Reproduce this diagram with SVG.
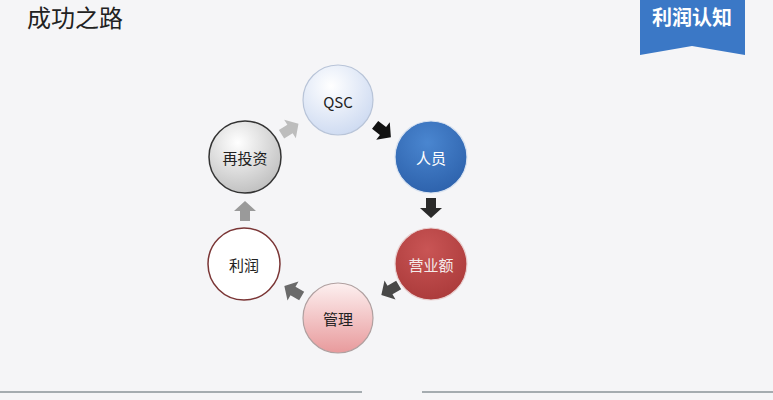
<svg xmlns="http://www.w3.org/2000/svg" width="773" height="400" viewBox="0 0 773 400">
<defs>
<radialGradient id="gQSC" cx="0.4" cy="0.3" r="0.8"><stop offset="0" stop-color="#ffffff"/><stop offset="1" stop-color="#c9d7f0"/></radialGradient>
<radialGradient id="gRY" cx="0.45" cy="0.3" r="0.8"><stop offset="0" stop-color="#4a86d0"/><stop offset="1" stop-color="#2a5ea8"/></radialGradient>
<radialGradient id="gYY" cx="0.45" cy="0.3" r="0.8"><stop offset="0" stop-color="#c95555"/><stop offset="1" stop-color="#a83838"/></radialGradient>
<linearGradient id="gGL" x1="0" y1="0" x2="0" y2="1"><stop offset="0" stop-color="#fdf0f0"/><stop offset="1" stop-color="#e89a9c"/></linearGradient>
<radialGradient id="gZT" cx="0.4" cy="0.3" r="0.85"><stop offset="0" stop-color="#ffffff"/><stop offset="1" stop-color="#b5b5b5"/></radialGradient>
<path id="arr" d="M-10,-5 L0,-5 L0,-11 L10,0 L0,11 L0,5 L-10,5 Z"/>
</defs>
<style>
.lbl{font-family:"Noto Sans CJK SC","Liberation Sans",sans-serif;font-size:15px;text-anchor:middle;dominant-baseline:central}
</style>
<rect x="0" y="0" width="773" height="400" fill="#f5f5f7"/>
<text x="27" y="27" font-family="'Noto Sans CJK SC','Liberation Sans',sans-serif" font-size="24" fill="#222">成功之路</text>
<g id="banner">
<polygon points="640,0 745,0 745,55 692,46 640,55" fill="#3b78c6"/>
<text x="692" y="25" font-family="'Noto Sans CJK SC',sans-serif" font-size="20" font-weight="bold" fill="#ffffff" text-anchor="middle">利润认知</text>
</g>
<g id="connectors">
<use href="#arr" transform="translate(383,131) rotate(38)" fill="#111"/>
<use href="#arr" transform="translate(431,208) rotate(90)" fill="#2a2a2a"/>
<use href="#arr" transform="translate(390,290) rotate(150)" fill="#484848"/>
<use href="#arr" transform="translate(293,291) rotate(210)" fill="#6a6a6a"/>
<use href="#arr" transform="translate(245,211) rotate(-90)" fill="#9a9a9a"/>
<use href="#arr" transform="translate(290,129) rotate(-32)" fill="#bdbdbd"/>
</g>
<g id="qsc"><circle cx="338" cy="100" r="35" fill="url(#gQSC)" stroke="#b8c4d8" stroke-width="1.2"/><text class="lbl" x="338" y="101" fill="#222" font-family="'Liberation Sans',sans-serif">QSC</text></g>
<g id="renyuan"><circle cx="431" cy="157" r="36" fill="url(#gRY)" stroke="#d8e2f0" stroke-width="1.2"/><text class="lbl" x="431" y="157" fill="#ffffff">人员</text></g>
<g id="yingye"><circle cx="431" cy="264" r="36" fill="url(#gYY)" stroke="#e8d0d0" stroke-width="1.2"/><text class="lbl" x="431" y="264" fill="#f4eaea">营业额</text></g>
<g id="guanli"><circle cx="338" cy="318" r="35" fill="url(#gGL)" stroke="#b0a0a0" stroke-width="1.2"/><text class="lbl" x="338" y="318" fill="#222">管理</text></g>
<g id="lirun"><circle cx="244" cy="264" r="36" fill="#ffffff" stroke="#7a3535" stroke-width="1.5"/><text class="lbl" x="244" y="264" fill="#222">利润</text></g>
<g id="zaitouzi"><circle cx="245" cy="157" r="36" fill="url(#gZT)" stroke="#333" stroke-width="1.5"/><text class="lbl" x="245" y="157" fill="#222">再投资</text></g>
<line x1="0" y1="392" x2="362" y2="392" stroke="#56646a" stroke-width="1.2"/>
<line x1="422" y1="392" x2="773" y2="392" stroke="#56646a" stroke-width="1.2"/>
</svg>
